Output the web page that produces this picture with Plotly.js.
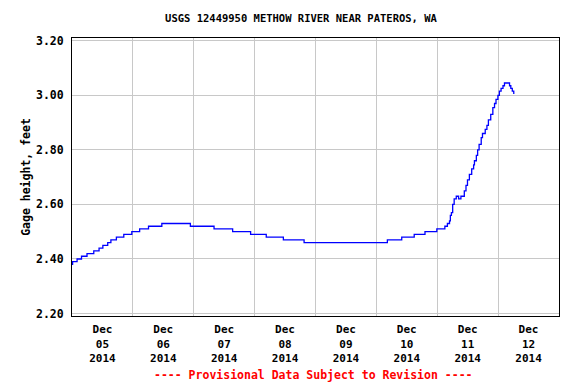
<!DOCTYPE html>
<html>
<head>
<meta charset="utf-8">
<script src="https://cdn.plot.ly/plotly-3.0.1.min.js"></script>
<style>
html,body{margin:0;padding:0;background:#fff;}
#chart{width:576px;height:384px;}
</style>
</head>
<body>
<div id="chart"></div>
<script>
var chartTitle = "USGS 12449950 METHOW RIVER NEAR PATEROS, WA";
var yTitle = "Gage height, feet";
var footNote = "---- Provisional Data Subject to Revision ----";

var times = [
  "2014-12-05 00:00","2014-12-05 00:15","2014-12-05 02:00","2014-12-05 03:45","2014-12-05 05:55",
  "2014-12-05 08:35","2014-12-05 10:40","2014-12-05 12:10","2014-12-05 14:05","2014-12-05 15:20",
  "2014-12-05 17:30","2014-12-05 20:25","2014-12-05 23:35","2014-12-06 02:40","2014-12-06 06:10",
  "2014-12-06 11:25","2014-12-06 22:40","2014-12-07 08:00","2014-12-07 15:20","2014-12-07 22:25",
  "2014-12-08 04:35","2014-12-08 11:20","2014-12-08 19:30","2014-12-10 04:20","2014-12-10 10:00",
  "2014-12-10 14:55","2014-12-10 19:10","2014-12-10 23:50","2014-12-11 03:00","2014-12-11 04:00",
  "2014-12-11 04:50","2014-12-11 05:10","2014-12-11 05:35","2014-12-11 06:05","2014-12-11 06:40",
  "2014-12-11 07:30","2014-12-11 08:25","2014-12-11 09:20","2014-12-11 10:40","2014-12-11 11:20",
  "2014-12-11 11:55","2014-12-11 12:40","2014-12-11 13:35","2014-12-11 14:20","2014-12-11 14:40",
  "2014-12-11 15:25","2014-12-11 15:55","2014-12-11 16:30","2014-12-11 17:20","2014-12-11 17:50",
  "2014-12-11 18:55","2014-12-11 19:35","2014-12-11 20:10","2014-12-11 21:05","2014-12-11 21:55",
  "2014-12-11 22:35","2014-12-11 23:10","2014-12-11 23:55","2014-12-12 00:30","2014-12-12 01:10",
  "2014-12-12 01:55","2014-12-12 02:30","2014-12-12 04:30","2014-12-12 05:00","2014-12-12 05:35",
  "2014-12-12 06:10"
];
var gageHeight = [
  2.38,2.39,2.40,2.41,2.42,
  2.43,2.44,2.45,2.46,2.47,
  2.48,2.49,2.50,2.51,2.52,
  2.53,2.52,2.51,2.50,2.49,
  2.48,2.47,2.46,2.47,2.48,
  2.49,2.50,2.51,2.52,2.53,
  2.54,2.56,2.57,2.60,2.62,
  2.63,2.62,2.63,2.65,2.67,
  2.69,2.71,2.73,2.745,2.76,
  2.78,2.80,2.82,2.845,2.86,
  2.875,2.89,2.91,2.93,2.955,
  2.97,2.985,3.00,3.015,3.025,
  3.035,3.045,3.035,3.025,3.015,
  3.005
];
var yTickVals = [2.20,2.40,2.60,2.80,3.00,3.20];
var yTickText = ["2.20","2.40","2.60","2.80","3.00","3.20"];

var mono = "DejaVu Sans Mono, Liberation Mono, monospace";

var trace = {
  x: times,
  y: gageHeight,
  type: "scatter",
  mode: "lines",
  line: {color: "#0000ff", width: 1.3, shape: "hv"},
  hoverinfo: "skip"
};

var layout = {
  width: 576,
  height: 384,
  margin: {l: 72, r: 17, t: 38, b: 68, pad: 0},
  paper_bgcolor: "#ffffff",
  plot_bgcolor: "#ffffff",
  showlegend: false,
  title: {
    text: chartTitle,
    font: {family: mono, size: 10.5, color: "#000", weight: "bold"},
    x: 301/576, xanchor: "center",
    y: 1 - 18/384, yref: "container", yanchor: "middle"
  },
  xaxis: {
    type: "date",
    range: ["2014-12-05 00:00", "2014-12-13 00:00"],
    tick0: "2014-12-05",
    dtick: 86400000,
    ticklabelmode: "period",
    tickformat: "%b<br>%d<br>%Y",
    tickfont: {family: mono, size: 11, color: "#000", weight: "bold"},
    showgrid: true,
    gridcolor: "#c8c8c8",
    gridwidth: 1,
    showline: true,
    linecolor: "#000",
    linewidth: 1,
    mirror: true,
    ticks: "outside",
    ticklen: 3,
    tickcolor: "rgba(0,0,0,0)",
    zeroline: false,
    fixedrange: true
  },
  yaxis: {
    range: [2.191, 3.21],
    tickvals: yTickVals,
    ticktext: yTickText,
    tickfont: {family: mono, size: 11.5, color: "#000", weight: "bold"},
    showgrid: true,
    gridcolor: "#c8c8c8",
    gridwidth: 1,
    showline: true,
    linecolor: "#000",
    linewidth: 1,
    mirror: true,
    ticks: "outside",
    ticklen: 5,
    tickcolor: "rgba(0,0,0,0)",
    zeroline: false,
    fixedrange: true,
    title: {
      text: yTitle,
      font: {family: mono, size: 11.5, color: "#000", weight: "bold"},
      standoff: 2
    }
  },
  annotations: [{
    text: footNote,
    xref: "paper", yref: "paper",
    x: (313 - 72) / 487, y: (316 - 375) / 278,
    xanchor: "center", yanchor: "middle",
    showarrow: false,
    font: {family: mono, size: 11.5, color: "#ff0000", weight: "bold"}
  }]
};

Plotly.newPlot("chart", [trace], layout, {displayModeBar: false, staticPlot: true});
</script>
</body>
</html>
